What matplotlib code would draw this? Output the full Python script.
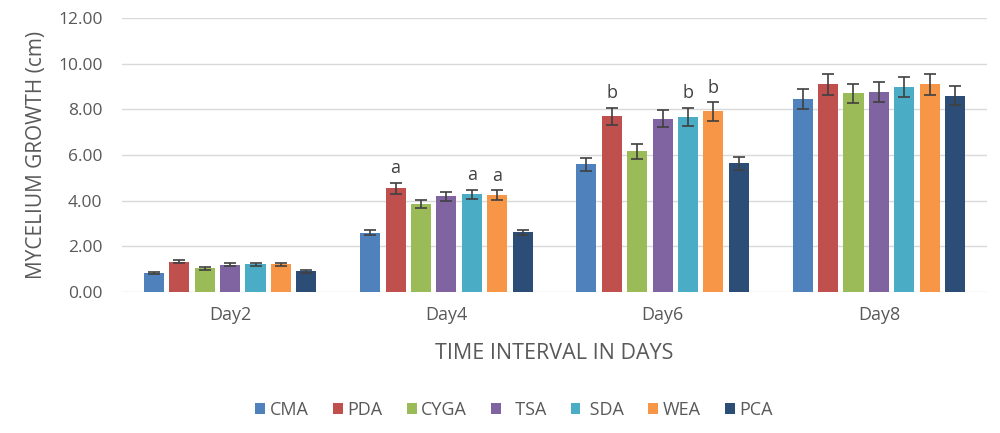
import numpy as np
import matplotlib.pyplot as plt

plt.rcParams['font.family'] = ['Open Sans', 'DejaVu Sans']

days = ["Day2", "Day4", "Day6", "Day8"]
media = ["CMA", "PDA", "CYGA", "TSA", "SDA", "WEA", "PCA"]
# legend labels as typed in the source chart (extra space before TSA / SDA)
legend_labels = ["CMA", "PDA", "CYGA", "  TSA", " SDA", "WEA", "PCA"]
colors = ["#4F81BD", "#C0504D", "#9BBB59", "#8064A2", "#4BACC6", "#F79646", "#2C4D75"]

# growth (cm) per medium, one value per day
growth = {
    "CMA":  [0.83, 2.60, 5.60, 8.45],
    "PDA":  [1.33, 4.54, 7.70, 9.10],
    "CYGA": [1.03, 3.85, 6.16, 8.70],
    "TSA":  [1.20, 4.20, 7.59, 8.76],
    "SDA":  [1.21, 4.28, 7.65, 8.97],
    "WEA":  [1.22, 4.25, 7.91, 9.10],
    "PCA":  [0.90, 2.61, 5.63, 8.59],
}
errors = {
    "CMA":  [0.05, 0.12, 0.28, 0.42],
    "PDA":  [0.06, 0.25, 0.38, 0.45],
    "CYGA": [0.05, 0.18, 0.32, 0.42],
    "TSA":  [0.05, 0.20, 0.38, 0.45],
    "SDA":  [0.06, 0.20, 0.40, 0.45],
    "WEA":  [0.06, 0.20, 0.40, 0.45],
    "PCA":  [0.05, 0.12, 0.28, 0.42],
}
# significance letters: (day index, medium, letter)
letters = [(1, "PDA", "a"), (1, "SDA", "a"), (1, "WEA", "a"),
           (2, "PDA", "b"), (2, "SDA", "b"), (2, "WEA", "b")]

txt = "#595959"
fig = plt.figure(figsize=(10, 4.33), dpi=100)
ax = fig.add_axes([0.122, 0.3256, 0.865, 0.6328])

x = np.arange(len(days))
step = 0.1175
width = 0.093
for i, m in enumerate(media):
    pos = x + (i - 3) * step
    ax.bar(pos, growth[m], width, color=colors[i], label=legend_labels[i], zorder=3)
    ax.errorbar(pos, growth[m], yerr=errors[m], fmt="none", ecolor="#404040",
                elinewidth=1.2, capsize=4.5, capthick=1.2, zorder=4)

for d, m, s in letters:
    i = media.index(m)
    ax.text(d + (i - 3) * step, growth[m][d] + errors[m][d] + 0.25, s,
            ha="center", va="bottom", fontsize=13, color="#404040")

ax.set_xlim(-0.5, 3.5)
ax.set_ylim(0, 12)
ax.set_yticks(np.arange(0, 13, 2))
ax.set_yticklabels(["%.2f" % v for v in np.arange(0, 13, 2)])
ax.set_xticks(x)
ax.set_xticklabels(days)
ax.grid(axis="y", color="#d9d9d9", linewidth=1, zorder=0)
for s in ax.spines.values():
    s.set_visible(False)
ax.tick_params(length=0, colors=txt)
ax.tick_params(axis="x", pad=10, labelsize=13)
ax.tick_params(axis="y", pad=14, labelsize=12.5)
ax.set_xlabel("TIME INTERVAL IN DAYS", color=txt, fontsize=15.5, labelpad=14)
ax.set_ylabel("MYCELIUM GROWTH (cm)", color=txt, fontsize=15, labelpad=8)

leg = fig.legend(loc="center", bbox_to_anchor=(0.514, 1 - 410 / 433), ncol=7,
                 frameon=False, fontsize=13, handlelength=0.55, handleheight=0.55,
                 columnspacing=1.35, handletextpad=0.25)
for t in leg.get_texts():
    t.set_color(txt)

fig.savefig("out.png", dpi=100)
